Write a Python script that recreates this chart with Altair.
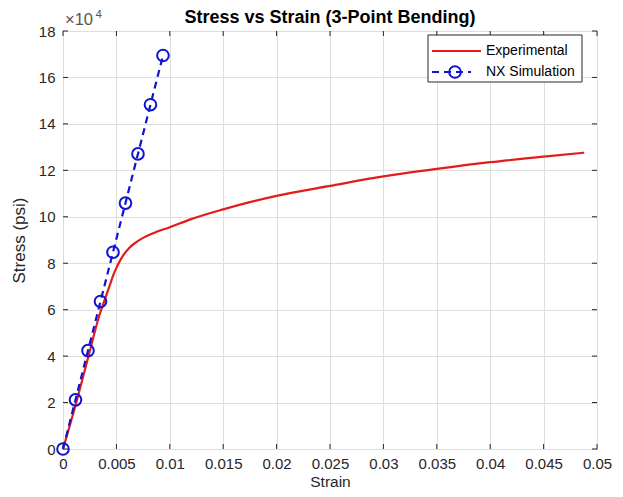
import altair as alt
import pandas as pd

# Experimental curve (strain, stress psi)
exp_strain = [0.0, 0.0013, 0.0025, 0.0034, 0.0039, 0.0044, 0.0047, 0.0050, 0.0053, 0.0057,
              0.0062, 0.0068, 0.0075, 0.0085, 0.0100, 0.0120, 0.0150, 0.0175, 0.0200,
              0.0250, 0.0300, 0.0350, 0.0400, 0.0450, 0.0488]
exp_stress = [0, 21000, 42000, 57500, 64200, 70800, 74800, 78000, 80800, 83800,
              86600, 88900, 90900, 93000, 95500, 99000, 103200, 106300, 109000,
              113300, 117400, 120600, 123500, 125900, 127600]

# NX simulation points
nx_strain = [0.0, 0.00117, 0.00234, 0.00351, 0.00468, 0.00585, 0.00702, 0.00819, 0.00936]
nx_stress = [0, 21180, 42360, 63540, 84720, 105900, 127080, 148260, 169440]

x_ticks = [0.0, 0.005, 0.01, 0.015, 0.02, 0.025, 0.03, 0.035, 0.04, 0.045, 0.05]
y_ticks = [0, 20000, 40000, 60000, 80000, 100000, 120000, 140000, 160000, 180000]

W, H = 534, 418
FONT = "Liberation Sans"
AX = "#262626"
RED = "#e31b1b"
BLUE = "#1212d2"

exp_df = pd.DataFrame({"strain": exp_strain, "stress": exp_stress})
nx_df = pd.DataFrame({"strain": nx_strain, "stress": nx_stress})
xt_df = pd.DataFrame({"v": x_ticks})
yt_df = pd.DataFrame({"v": y_ticks})
one = pd.DataFrame({"a": [0]})

xscale = alt.Scale(domain=[0, 0.05], nice=False, zero=False)
yscale = alt.Scale(domain=[0, 180000], nice=False, zero=False)

xenc = alt.X("strain:Q", scale=xscale, axis=alt.Axis(
    title="Strain", values=x_ticks, format="~g", grid=True, gridColor="#dedede",
    ticks=False, domain=False, labelFont=FONT, labelFontSize=15, labelColor=AX,
    labelPadding=7, titleFont=FONT, titleFontSize=15.5, titleColor=AX,
    titleFontWeight="normal", titlePadding=3, labelFlush=False))
yenc = alt.Y("stress:Q", scale=yscale, axis=alt.Axis(
    title="Stress (psi)", values=y_ticks, labelExpr="datum.value/10000", grid=True,
    gridColor="#dedede", ticks=False, domain=False, labelFont=FONT, labelFontSize=15,
    labelColor=AX, labelPadding=8, titleFont=FONT, titleFontSize=17, titleColor=AX,
    titleFontWeight="normal", titlePadding=10, labelFlush=False))

exp_line = alt.Chart(exp_df).mark_line(color=RED, strokeWidth=2.2, interpolate="monotone").encode(
    x=xenc, y=yenc, order="strain:Q")
nx_line = alt.Chart(nx_df).mark_line(color=BLUE, strokeWidth=2.2, strokeDash=[7, 5]).encode(
    x=alt.X("strain:Q", scale=xscale), y=alt.Y("stress:Q", scale=yscale), order="strain:Q")
nx_pts = alt.Chart(nx_df).mark_point(shape="circle", filled=False, color=BLUE,
                                     strokeWidth=2, size=135, opacity=1).encode(
    x=alt.X("strain:Q", scale=xscale), y=alt.Y("stress:Q", scale=yscale))

# inward ticks (MATLAB style)
tb = alt.Chart(xt_df).mark_rule(color=AX, strokeWidth=1).encode(
    x=alt.X("v:Q", scale=xscale), y=alt.value(H), y2=alt.value(H - 5))
tt = alt.Chart(xt_df).mark_rule(color=AX, strokeWidth=1).encode(
    x=alt.X("v:Q", scale=xscale), y=alt.value(0), y2=alt.value(5))
tl = alt.Chart(yt_df).mark_rule(color=AX, strokeWidth=1).encode(
    y=alt.Y("v:Q", scale=yscale), x=alt.value(0), x2=alt.value(5))
tr = alt.Chart(yt_df).mark_rule(color=AX, strokeWidth=1).encode(
    y=alt.Y("v:Q", scale=yscale), x=alt.value(W), x2=alt.value(W - 5))

# title
title_txt = alt.Chart(one).mark_text(text="Stress vs Strain (3-Point Bending)", font=FONT,
                                     fontSize=18, fontWeight="bold", color="black",
                                     align="center", baseline="alphabetic").encode(
    x=alt.value(W / 2), y=alt.value(-8))

# exponent label
exp_txt = alt.Chart(one).mark_text(text="×10", font=FONT, fontSize=16.5, color="#555555",
                                   align="left", baseline="alphabetic").encode(
    x=alt.value(2), y=alt.value(-6))
exp_sup = alt.Chart(one).mark_text(text="4", font=FONT, fontSize=11.5, color="#555555",
                                   align="left", baseline="alphabetic").encode(
    x=alt.value(32.5), y=alt.value(-13))

# legend
lg_box = alt.Chart(one).mark_rect(fill="white", stroke=AX, strokeWidth=1).encode(
    x=alt.value(365), x2=alt.value(519), y=alt.value(4), y2=alt.value(51))
lg_red = alt.Chart(one).mark_rule(color=RED, strokeWidth=2.2).encode(
    x=alt.value(369), x2=alt.value(418), y=alt.value(20))
lg_blue = alt.Chart(one).mark_rule(color=BLUE, strokeWidth=2.2, strokeDash=[7, 5]).encode(
    x=alt.value(369), x2=alt.value(408), y=alt.value(41))
lg_pt = alt.Chart(one).mark_point(shape="circle", filled=False, color=BLUE, strokeWidth=2,
                                  size=135, opacity=1).encode(
    x=alt.value(392), y=alt.value(41))
lg_t1 = alt.Chart(one).mark_text(text="Experimental", font=FONT, fontSize=14, color="black",
                                 align="left", baseline="middle").encode(
    x=alt.value(423), y=alt.value(20))
lg_t2 = alt.Chart(one).mark_text(text="NX Simulation", font=FONT, fontSize=14, color="black",
                                 align="left", baseline="middle").encode(
    x=alt.value(423), y=alt.value(41))

chart = alt.layer(
    exp_line, tb, tt, tl, tr, nx_line, nx_pts, title_txt, exp_txt, exp_sup,
    lg_box, lg_red, lg_blue, lg_pt, lg_t1, lg_t2
).properties(
    width=W, height=H,
    autosize=alt.AutoSizeParams(type="none"),
    padding={"left": 55, "top": 23, "right": 18, "bottom": 40},
    background="white",
).configure_view(stroke=AX, strokeWidth=1)

chart.save("out.html", embed_options={"renderer": "svg", "actions": False})
